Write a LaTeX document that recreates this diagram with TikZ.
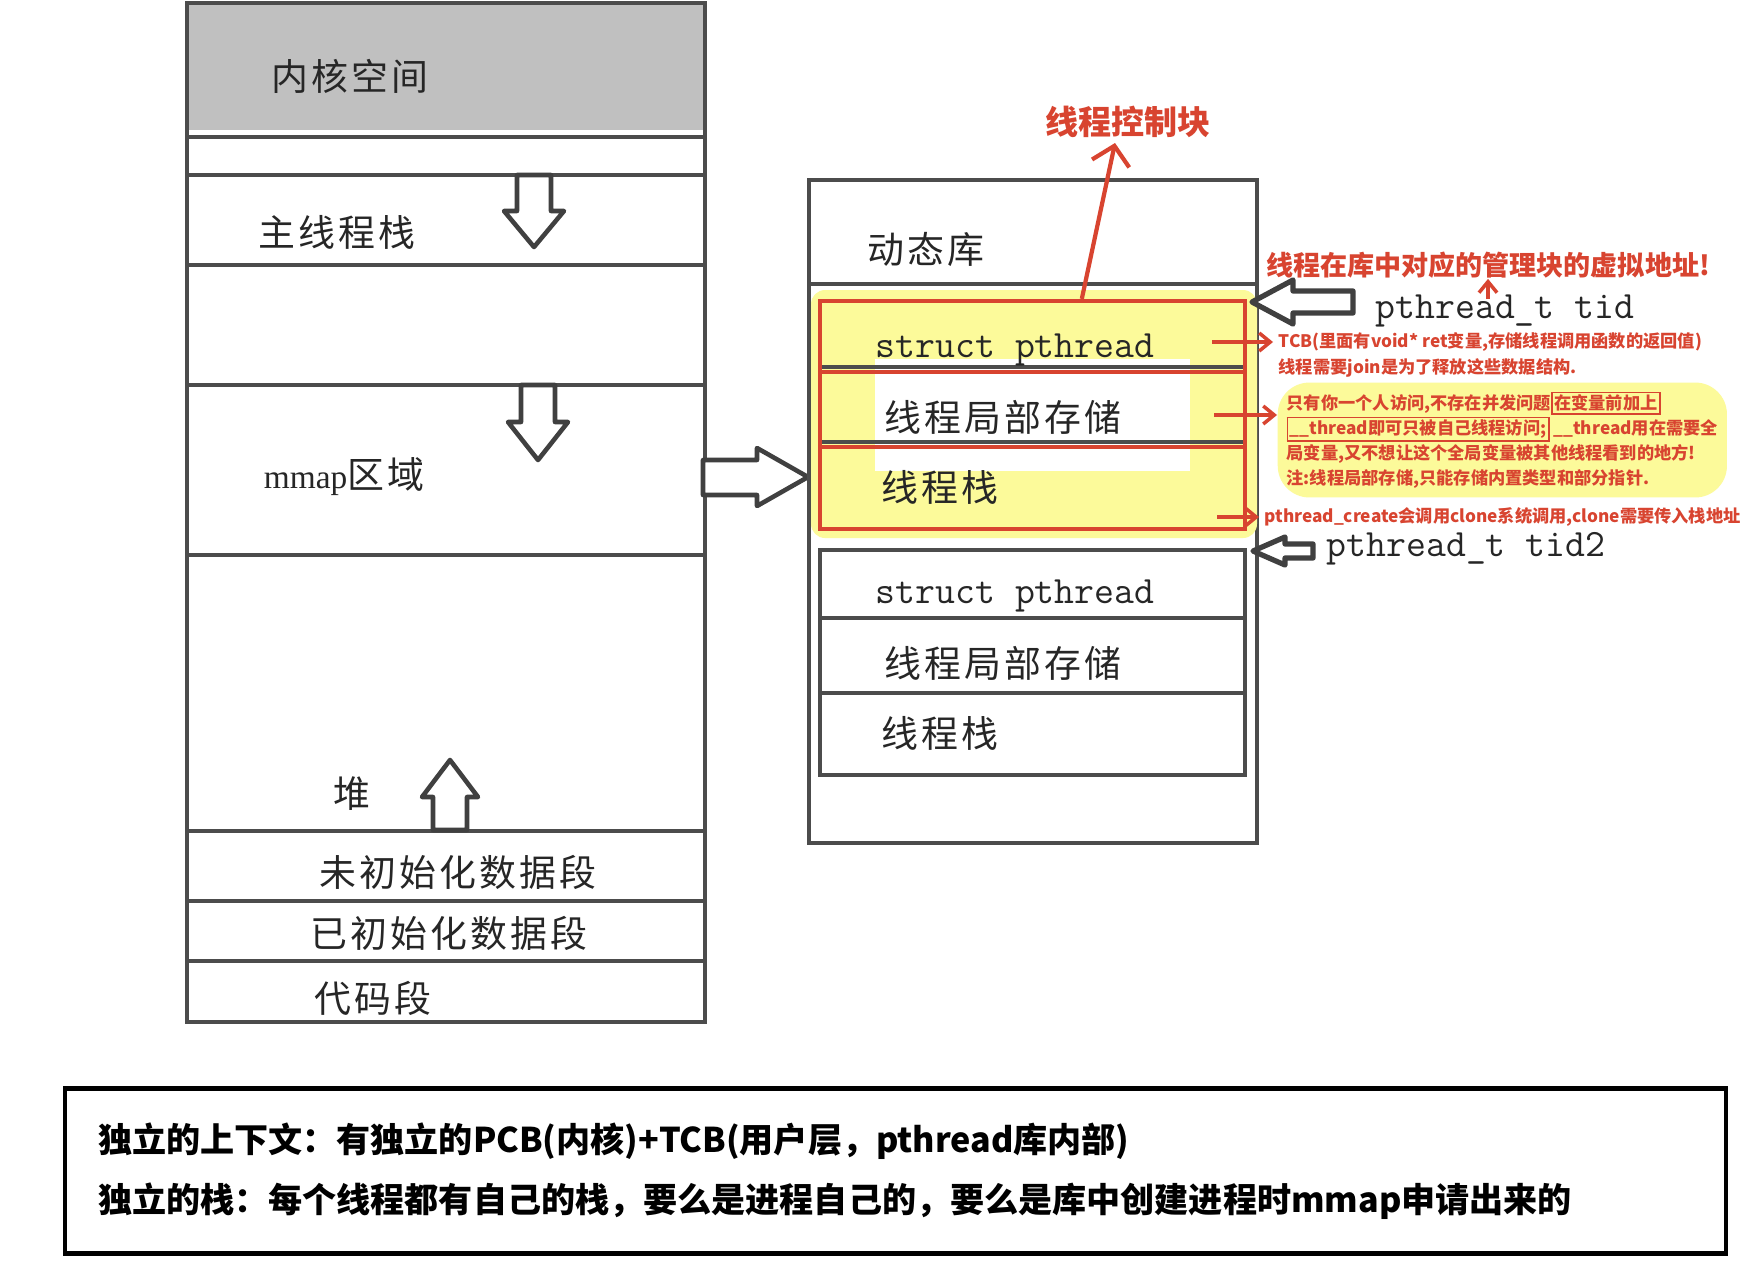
\documentclass[tikz,border=0pt]{standalone}
\usepackage{fontspec}
\setmainfont{Noto Sans CJK SC}
\newfontfamily\songfont[LetterSpace=8]{Noto Sans CJK SC}
\newfontfamily\romanfont{Liberation Serif}
\usetikzlibrary{arrows.meta}
\newcommand{\notebox}[1]{{\setlength{\fboxsep}{0.4pt}\setlength{\fboxrule}{0.5pt}\fbox{#1}}}

\begin{document}
\begin{tikzpicture}[x=0.1mm, y=-0.1mm, every node/.style={inner sep=0pt},
    segline/.style={draw=black!70, line width=1.1pt},
    seglabel/.style={text=black!85, font=\songfont\fontsize{10.5}{12}\selectfont},
    codelabel/.style={text=black!85, font=\ttfamily\fontsize{11}{13}\selectfont},
    blockarrow/.style={draw=black!75, fill=white, line width=1.3pt, line join=round},
    redtext/.style={text=markred, inner xsep=0.5mm, font=\bfseries\fontsize{4.9}{7.1}\selectfont},
    redarrow/.style={draw=markred, line width=1pt, -{Straight Barb[length=1.1mm, width=1.8mm]}}]
    % Define the colors
    \definecolor{markred}{HTML}{D84430}
    \definecolor{markyellow}{HTML}{FCFA9A}
    \definecolor{kernelgray}{HTML}{C0C0C0}

    % Fix the page size
    \useasboundingbox (0,0) rectangle (1746,1283);
    \fill[white] (0,0) rectangle (1746,1283);

    % Draw the process address space column
    \fill[kernelgray] (187,3) rectangle (705,130);
    \draw[segline] (187,3) rectangle (705,1022);
    \draw[segline] (187,137) -- (705,137);
    \draw[segline] (187,175) -- (705,175);
    \draw[segline] (187,265) -- (705,265);
    \draw[segline] (187,385) -- (705,385);
    \draw[segline] (187,555) -- (705,555);
    \draw[segline] (187,831) -- (705,831);
    \draw[segline] (187,901) -- (705,901);
    \draw[segline] (187,961) -- (705,961);

    % Labels of the column
    \node[seglabel] (Kernel) at (350,76) {内核空间};
    \node[seglabel] (MainStack) at (337,232) {主线程栈};
    \node[seglabel] (MmapArea) at (344,477) {{\romanfont\fontsize{9.5}{11}\selectfont mmap}区域};
    \node[seglabel] (Heap) at (352,794) {堆};
    \node[seglabel] (Bss) at (458,872) {未初始化数据段};
    \node[seglabel] (Data) at (449,933) {已初始化数据段};
    \node[seglabel] (Code) at (373,998) {代码段};

    % Hollow growth arrows
    \draw[blockarrow] (517,175) -- (551,175) -- (551,211) -- (564,211) -- (534,247) -- (504,211) -- (517,211) -- cycle;
    \draw[blockarrow] (521,385) -- (555,385) -- (555,422) -- (568,422) -- (538,460) -- (508,422) -- (521,422) -- cycle;
    \draw[blockarrow] (433,830) -- (467,830) -- (467,797) -- (478,797) -- (450,760) -- (422,797) -- (433,797) -- cycle;
    \draw[blockarrow] (703,460) -- (757,460) -- (757,448) -- (808,477) -- (757,506) -- (757,495) -- (703,495) -- cycle;

    % Draw the shared library box
    \draw[segline] (809,180) rectangle (1257,843);
    \draw[segline] (809,284) -- (1257,284);
    \node[seglabel] (DynLib) at (926,249) {动态库};

    % Highlight of the first thread block
    \fill[markyellow, rounded corners=4pt] (811,290) rectangle (1257,538);
    \fill[white] (875,359) rectangle (1190,471);

    % First thread block
    \draw[segline] (820,301) rectangle (1245,529);
    \draw[segline] (820,367) -- (1245,367);
    \draw[segline] (820,442) -- (1245,442);
    \node[codelabel] (PthreadOne) at (1015,350) {struct pthread};
    \node[seglabel] (TlsOne) at (1003,417) {线程局部存储};
    \node[seglabel] (StackOne) at (940,487) {线程栈};
    \node[draw=markred, line width=1.2pt, minimum width=4.25cm, minimum height=2.28cm] (TcbFrame) at (1032.5,415) {};
    \draw[markred, line width=1.2pt] (820,372) -- (1245,372);
    \draw[markred, line width=1.2pt] (820,447) -- (1245,447);

    % Second thread block
    \draw[segline] (820,550) rectangle (1245,775);
    \draw[segline] (820,618) -- (1245,618);
    \draw[segline] (820,693) -- (1245,693);
    \node[codelabel] (PthreadTwo) at (1015,596) {struct pthread};
    \node[seglabel] (TlsTwo) at (1003,663) {线程局部存储};
    \node[seglabel] (StackTwo) at (940,733) {线程栈};

    % Thread ids pointing at the blocks
    \draw[blockarrow, line width=1.5pt] (1353,291) -- (1293,291) -- (1293,280) -- (1252,302) -- (1293,324) -- (1293,313) -- (1353,313) -- cycle;
    \node[codelabel] (TidOne) at (1505,311) {pthread\_t tid};
    \draw[blockarrow, line width=1.5pt] (1313,544) -- (1285,544) -- (1285,537) -- (1253,551) -- (1285,565) -- (1285,558) -- (1313,558) -- cycle;
    \node[codelabel] (TidTwo) at (1466,549) {pthread\_t tid2};

    % Red notes
    \node[redtext, font=\bfseries\fontsize{9.4}{11}\selectfont] (TcbTitle) at (1128,122) {线程控制块};
    \coordinate (TitleTip) at (1115,143);
    \draw[markred, line width=1.2pt, -{Straight Barb[length=1.8mm, width=3.8mm]}] (TcbFrame.67) -- (TitleTip);

    \node[redtext, font=\bfseries\fontsize{7.7}{9}\selectfont] (TidHead) at (1488,265) {线程在库中对应的管理块的虚拟地址!};
    \coordinate (TidUp) at (1488,299);
    \draw[redarrow] (TidUp) -- (TidHead.south);

    \node[redtext, anchor=west] (TcbNote) at (1273,342) {TCB(里面有void* ret变量,存储线程调用函数的返回值)};
    \node[redtext, anchor=west] (JoinNote) at (1273,368) {线程需要join是为了释放这些数据结构.};
    \coordinate (TcbSrc) at (1212,342);
    \draw[redarrow] (TcbSrc) -- (TcbNote.west);

    \node[redtext, fill=markyellow, rounded corners=9pt, inner xsep=0.9mm, inner ysep=0.9mm, align=left, anchor=west] (TlsNote) at (1277,440)
        {只有你一个人访问,不存在并发问题\notebox{在变量前加上}\\
         \notebox{\_\_thread即可只被自己线程访问;} \_\_thread用在需要全\\
         局变量,又不想让这个全局变量被其他线程看到的地方!\\
         注:线程局部存储,只能存储内置类型和部分指针.};
    \coordinate (TlsSrc) at (1214,415);
    \draw[redarrow] (TlsSrc) -- (TlsNote.west |- TlsSrc);

    \node[redtext, anchor=west] (CloneNote) at (1259,517) {pthread\_create会调用clone系统调用,clone需要传入栈地址};
    \coordinate (CloneSrc) at (1217,517);
    \draw[redarrow] (CloneSrc) -- (CloneNote.west);

    % Summary box
    \node[draw=black, line width=1.4pt, minimum width=16.61cm, minimum height=1.65cm, text width=15.95cm, align=left,
          font=\bfseries\fontsize{9.7}{17}\selectfont] (Summary) at (895.5,1171)
        {独立的上下文：有独立的PCB(内核)+TCB(用户层，pthread库内部)\\
         独立的栈：每个线程都有自己的栈，要么是进程自己的，要么是库中创建进程时mmap申请出来的};
\end{tikzpicture}
\end{document}
